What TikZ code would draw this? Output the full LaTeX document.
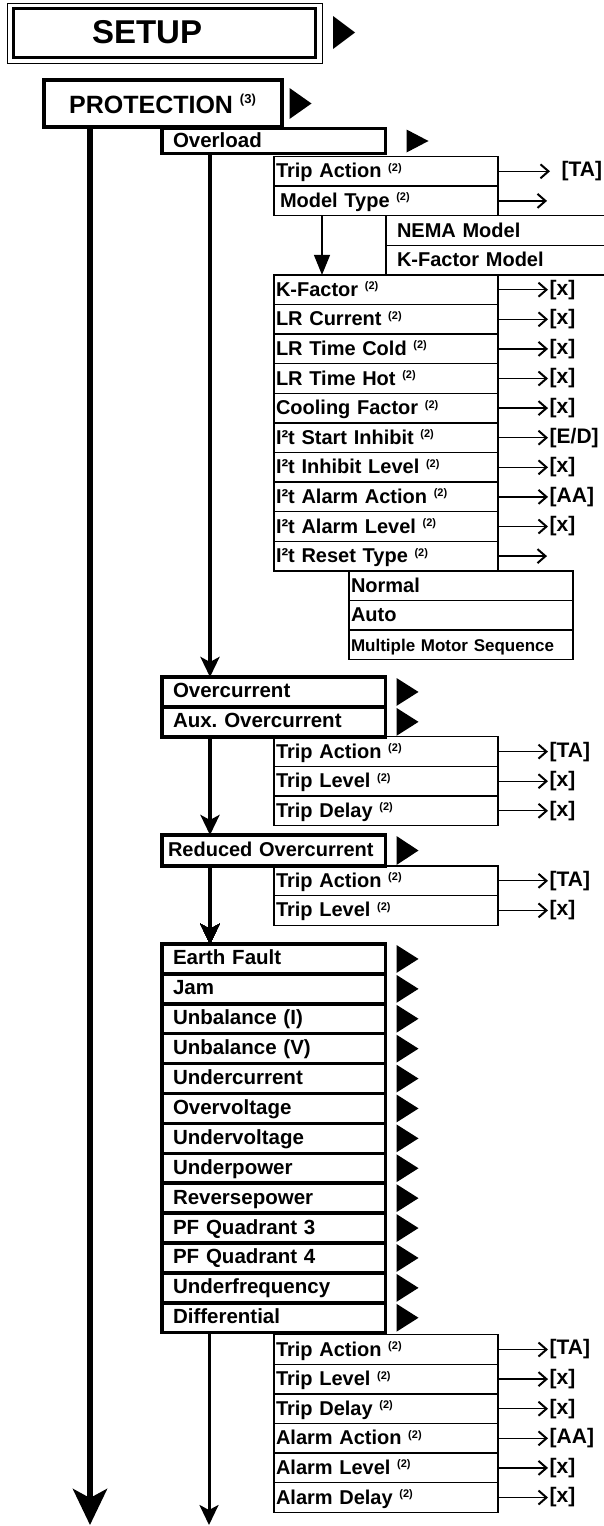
\documentclass[tikz,border=0pt]{standalone}
\usepackage{fontspec}
\setmainfont{Liberation Sans}
\usepackage{tikz}
\usetikzlibrary{arrows.meta, positioning, calc}

\newcommand{\noteref}[1]{\raisebox{6.5pt}{\fontsize{11}{11}\selectfont(#1)}}
\newcommand{\navtri}[3]{\fill ([xshift=#2,yshift=-#3]#1.north east) -- ([xshift=#2+22pt]#1.east) -- ([xshift=#2,yshift=#3]#1.south east) -- cycle;}

\tikzset{
  menu/.style={draw, line width=3.5pt, outer sep=0pt, anchor=north west, text width=201.5pt, inner xsep=11pt, inner ysep=0pt, minimum height=29.9pt, align=left, text height=15pt, text depth=3pt, font=\fontsize{20.5}{24}\selectfont\bfseries},
  row/.style={draw, line width=1.3pt, outer sep=0pt, anchor=north west, text width=220pt, inner xsep=2pt, inner ysep=0pt, minimum height=29.6pt, align=left, text height=15.5pt, text depth=2.5pt, font=\fontsize{20}{24}\selectfont\bfseries},
  val/.style={anchor=west, inner sep=1.5pt, font=\fontsize{21}{24}\selectfont\bfseries},
  bigarrow/.style={line width=6pt, -{Stealth[length=36pt, width=34pt, inset=9pt]}},
  midarrow/.style={line width=4pt, -{Stealth[length=20pt, width=19pt, inset=5pt]}},
  thinarrow/.style={line width=1.3pt, -{Triangle[length=20pt, width=16pt]}},
  valarrow/.style={line width=1.3pt, -{Straight Barb[length=8pt, width=14pt, line width=2pt]}},
}

\begin{document}
\begin{tikzpicture}[x=1pt, y=-1pt]
\useasboundingbox (0,0) rectangle (604,1526);
% headers
\node[draw, line width=3pt, outer sep=0pt, anchor=north west, text width=144pt, inner xsep=79pt, inner ysep=0pt, minimum height=49pt, align=left, font=\fontsize{33}{36}\selectfont\bfseries] (setup) at (13,8) {SETUP};
\draw[line width=1pt] ($(setup.north west)+(-6,-5)$) rectangle ($(setup.south east)+(7,6)$);
\navtri{setup}{18pt}{8pt}
\node[draw, line width=4pt, outer sep=0pt, anchor=north west, minimum width=238pt, minimum height=47pt, inner sep=0pt, font=\fontsize{25}{28}\selectfont\bfseries] (prot) at (43.5,80) {PROTECTION\;\raisebox{10pt}{\fontsize{13}{13}\selectfont(3)}};
\navtri{prot}{8pt}{8pt}

% overload
\node[menu, minimum height=25pt] (ovl) at (162,128.5) {Overload};
\navtri{ovl}{21pt}{1pt}
\node[row] (olta) at ($(ovl.south west)+(112,3)$) {Trip Action \noteref{2}};
\node[row] (olmt) at (olta.south west) {\hspace*{4pt}Model Type \noteref{2}};
\node[row, text width=198pt, inner xsep=11pt] (nema) at ([xshift=112pt]olmt.south west) {NEMA Model};
\node[row, text width=198pt, inner xsep=11pt] (kfm) at (nema.south west) {K-Factor Model};
\node[row] (kf) at ([xshift=-112pt]kfm.south west) {K-Factor \noteref{2}};
\node[row] (lrc) at (kf.south west) {LR Current \noteref{2}};
\node[row] (lrtc) at (lrc.south west) {LR Time Cold \noteref{2}};
\node[row] (lrth) at (lrtc.south west) {LR Time Hot \noteref{2}};
\node[row] (cf) at (lrth.south west) {Cooling Factor \noteref{2}};
\node[row] (sti) at (cf.south west) {I²t Start Inhibit \noteref{2}};
\node[row] (inl) at (sti.south west) {I²t Inhibit Level \noteref{2}};
\node[row] (ala) at (inl.south west) {I²t Alarm Action \noteref{2}};
\node[row] (all) at (ala.south west) {I²t Alarm Level \noteref{2}};
\node[row] (rst) at (all.south west) {I²t Reset Type \noteref{2}};
\node[row] (nrm) at ([xshift=75pt]rst.south west) {Normal};
\node[row] (aut) at (nrm.south west) {Auto};
\node[row, font=\fontsize{17}{20}\selectfont\bfseries] (mms) at (aut.south west) {Multiple Motor Sequence};

\node[val] (volta) at ([xshift=62pt]olta.east) {[TA]};
\coordinate (volmt) at ([xshift=49pt]olmt.east);
\node[val] (vkf) at ([xshift=50pt]kf.east) {[x]};
\node[val] (vlrc) at ([xshift=50pt]lrc.east) {[x]};
\node[val] (vlrtc) at ([xshift=50pt]lrtc.east) {[x]};
\node[val] (vlrth) at ([xshift=50pt]lrth.east) {[x]};
\node[val] (vcf) at ([xshift=50pt]cf.east) {[x]};
\node[val] (vsti) at ([xshift=50pt]sti.east) {[E/D]};
\node[val] (vinl) at ([xshift=50pt]inl.east) {[x]};
\node[val] (vala) at ([xshift=50pt]ala.east) {[AA]};
\node[val] (vall) at ([xshift=50pt]all.east) {[x]};
\coordinate (vrst) at ([xshift=49pt]rst.east);

\draw[valarrow, shorten >=10pt] (olta.east) -- (volta.west);
\draw[valarrow] (olmt.east) -- (volmt);
\draw[valarrow] (rst.east) -- (vrst);
\foreach \r in {kf,lrc,lrtc,lrth,cf,sti,inl,ala,all}
  \draw[valarrow] (\r.east) -- (v\r.west);
\draw[thinarrow] ([xshift=48pt]olmt.south west) -- ([xshift=48pt]kf.north west);

% overcurrent
\node[menu] (oc) at (162,677) {Overcurrent};
\node[menu] (aoc) at (oc.south west) {Aux.\ Overcurrent};
\navtri{oc}{11pt}{1pt}
\navtri{aoc}{11pt}{1pt}
\node[row] (octa) at ([xshift=112pt]aoc.south west) {Trip Action \noteref{2}};
\node[row] (octl) at (octa.south west) {Trip Level \noteref{2}};
\node[row] (octd) at (octl.south west) {Trip Delay \noteref{2}};
\node[val] (vocta) at ([xshift=50pt]octa.east) {[TA]};
\node[val] (voctl) at ([xshift=50pt]octl.east) {[x]};
\node[val] (voctd) at ([xshift=50pt]octd.east) {[x]};
\foreach \r in {octa,octl,octd}
  \draw[valarrow] (\r.east) -- (v\r.west);
\draw[midarrow] ([xshift=48pt]ovl.south west) -- ([xshift=48pt]oc.north west);

% reduced overcurrent
\node[menu, minimum height=31pt, inner xsep=6pt, text width=211.5pt, font=\fontsize{20}{24}\selectfont\bfseries] (roc) at (162,835) {Reduced Overcurrent};
\navtri{roc}{11pt}{1pt}
\node[row] (rota) at ([xshift=112pt]roc.south west) {Trip Action \noteref{2}};
\node[row] (rotl) at (rota.south west) {Trip Level \noteref{2}};
\node[val] (vrota) at ([xshift=50pt]rota.east) {[TA]};
\node[val] (vrotl) at ([xshift=50pt]rotl.east) {[x]};
\foreach \r in {rota,rotl}
  \draw[valarrow] (\r.east) -- (v\r.west);
\draw[midarrow] ([xshift=48pt]aoc.south west) -- ([xshift=48pt]roc.north west);

% other protections
\node[menu] (ef) at (162,944) {Earth Fault};
\node[menu] (jam) at (ef.south west) {Jam};
\node[menu] (ubi) at (jam.south west) {Unbalance (I)};
\node[menu] (ubv) at (ubi.south west) {Unbalance (V)};
\node[menu] (uc) at (ubv.south west) {Undercurrent};
\node[menu] (ov) at (uc.south west) {Overvoltage};
\node[menu] (uv) at (ov.south west) {Undervoltage};
\node[menu] (up) at (uv.south west) {Underpower};
\node[menu] (rp) at (up.south west) {Reversepower};
\node[menu] (pfa) at (rp.south west) {PF Quadrant 3};
\node[menu] (pfb) at (pfa.south west) {PF Quadrant 4};
\node[menu] (uf) at (pfb.south west) {Underfrequency};
\node[menu] (dif) at (uf.south west) {Differential};
\foreach \m in {ef,jam,ubi,ubv,uc,ov,uv,up,rp,pfa,pfb,uf,dif}
  \navtri{\m}{11pt}{1pt}
\draw[midarrow] ([xshift=48pt]roc.south west) -- ([xshift=48pt]ef.north west);

\node[row] (dta) at ([xshift=112pt,yshift=-2pt]dif.south west) {Trip Action \noteref{2}};
\node[row] (dtl) at (dta.south west) {Trip Level \noteref{2}};
\node[row] (dtd) at (dtl.south west) {Trip Delay \noteref{2}};
\node[row] (daa) at (dtd.south west) {Alarm Action \noteref{2}};
\node[row] (dal) at (daa.south west) {Alarm Level \noteref{2}};
\node[row] (dad) at (dal.south west) {Alarm Delay \noteref{2}};
\node[val] (vdta) at ([xshift=50pt]dta.east) {[TA]};
\node[val] (vdtl) at ([xshift=50pt]dtl.east) {[x]};
\node[val] (vdtd) at ([xshift=50pt]dtd.east) {[x]};
\node[val] (vdaa) at ([xshift=50pt]daa.east) {[AA]};
\node[val] (vdal) at ([xshift=50pt]dal.east) {[x]};
\node[val] (vdad) at ([xshift=50pt]dad.east) {[x]};
\foreach \r in {dta,dtl,dtd,daa,dal,dad}
  \draw[valarrow] (\r.east) -- (v\r.west);

% main arrows down
\coordinate (protend) at (90,1525);
\coordinate (difend) at (209,1525);
\draw[bigarrow] (prot.south -| protend) -- (protend);
\draw[midarrow, line width=3pt] ([xshift=47pt]dif.south west) -- (difend);
\end{tikzpicture}
\end{document}
